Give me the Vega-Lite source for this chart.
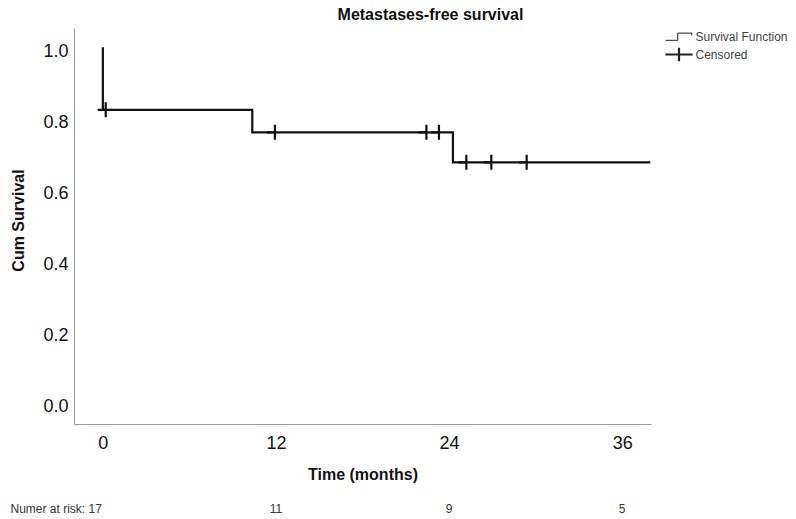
{
  "$schema": "https://vega.github.io/schema/vega-lite/v6.json",
  "width": 577,
  "height": 396,
  "autosize": "none",
  "padding": {"left": 74, "top": 28, "right": 145, "bottom": 95},
  "background": "white",
  "config": {"view": {"stroke": null}, "font": "Liberation Sans"},
  "title": {"text": "Metastases-free survival", "fontSize": 16, "fontWeight": "bold", "font": "Liberation Sans", "color": "#111", "anchor": "middle", "dx": 68, "offset": 5},
  "datasets": {
    "survival": [
      {"time": 0, "survival": 1.0},
      {"time": 0, "survival": 0.8235},
      {"time": 10.36, "survival": 0.7602},
      {"time": 24.27, "survival": 0.6757},
      {"time": 37.95, "survival": 0.6757}
    ],
    "censored": [
      {"time": 0.2, "survival": 0.8235, "series": "Censored"},
      {"time": 11.93, "survival": 0.7602, "series": "Censored"},
      {"time": 22.43, "survival": 0.7602, "series": "Censored"},
      {"time": 23.3, "survival": 0.7602, "series": "Censored"},
      {"time": 25.2, "survival": 0.6757, "series": "Censored"},
      {"time": 26.93, "survival": 0.6757, "series": "Censored"},
      {"time": 29.38, "survival": 0.6757, "series": "Censored"}
    ],
    "atrisk": [
      {"time": 0, "label": "Numer at risk: 17"},
      {"time": 12, "label": "11"},
      {"time": 24, "label": "9"},
      {"time": 36, "label": "5"}
    ]
  },
  "layer": [
    {
      "data": {"name": "survival"},
      "mark": {"type": "line", "interpolate": "step-after", "color": "#111", "strokeWidth": 2.2},
      "encoding": {
        "x": {"field": "time", "type": "quantitative",
          "scale": {"domain": [-2, 38], "nice": false, "zero": false},
          "axis": {"values": [0, 12, 24, 36], "title": "Time (months)", "titleFontSize": 16, "titleFontWeight": "bold", "titleColor": "#111", "titlePadding": 14, "labelFontSize": 18, "labelColor": "#111", "labelPadding": 10, "ticks": false, "tickSize": 0, "grid": false, "domainColor": "#999", "labelFont": "Liberation Sans", "titleFont": "Liberation Sans", "labelFlush": false}},
        "y": {"field": "survival", "type": "quantitative",
          "scale": {"domain": [-0.061, 1.054], "nice": false, "zero": false},
          "axis": {"values": [0, 0.2, 0.4, 0.6, 0.8, 1.0], "format": ".1f", "title": "Cum Survival", "titleFontSize": 16, "titleFontWeight": "bold", "titleColor": "#111", "titlePadding": 16, "titleY": 192, "labelFontSize": 18, "labelColor": "#111", "labelPadding": 6, "labelOffset": 4.5, "ticks": false, "tickSize": 0, "grid": false, "domainColor": "#999", "labelFont": "Liberation Sans", "titleFont": "Liberation Sans", "labelFlush": false}}
      }
    },
    {
      "data": {"name": "censored"},
      "mark": {"type": "point", "filled": false, "size": 225, "shape": "M-1.07,0H0M0,-1V1", "strokeWidth": 2.2, "color": "#111", "opacity": 1},
      "encoding": {
        "x": {"field": "time", "type": "quantitative"},
        "y": {"field": "survival", "type": "quantitative"}
      }
    },
    {
      "data": {"name": "censored"},
      "mark": {"type": "point", "filled": false, "size": 225, "color": "#111", "opacity": 0},
      "encoding": {
        "x": {"field": "time", "type": "quantitative"},
        "y": {"field": "survival", "type": "quantitative"},
        "shape": {"field": "series", "type": "nominal",
          "scale": {"domain": ["Survival Function", "Censored"], "range": ["M-1.6,0.45H-0.15V-0.4H1.5V-0.1", "M-1.6,0H1.6M0,-0.78V0.78"]},
          "legend": {"orient": "none", "legendX": 595, "legendY": -0.5, "title": null, "symbolSize": 289, "symbolOpacity": 1, "symbolStrokeColor": "#222", "symbolFillColor": "transparent", "labelFontSize": 12, "labelColor": "#444", "labelFont": "Liberation Sans", "labelOffset": 6.5, "rowPadding": 0, "padding": 0}},
        "strokeWidth": {"field": "series", "type": "nominal",
          "scale": {"type": "ordinal", "domain": ["Survival Function", "Censored"], "range": [1, 2.2]},
          "legend": {"orient": "none", "legendX": 595, "legendY": -0.5, "title": null, "symbolSize": 289, "symbolOpacity": 1, "symbolStrokeColor": "#222", "symbolFillColor": "transparent", "labelFontSize": 12, "labelColor": "#444", "labelFont": "Liberation Sans", "labelOffset": 6.5, "rowPadding": 0, "padding": 0}}
      }
    },
    {
      "data": {"name": "atrisk"},
      "transform": [{"filter": "datum.time == 0"}],
      "mark": {"type": "text", "align": "right", "baseline": "middle", "fontSize": 12, "color": "#333", "dx": -1, "font": "Liberation Sans"},
      "encoding": {
        "x": {"field": "time", "type": "quantitative"},
        "y": {"datum": -0.3},
        "text": {"field": "label"}
      }
    },
    {
      "data": {"name": "atrisk"},
      "transform": [{"filter": "datum.time > 0"}],
      "mark": {"type": "text", "align": "center", "baseline": "middle", "fontSize": 12, "color": "#333", "font": "Liberation Sans"},
      "encoding": {
        "x": {"field": "time", "type": "quantitative"},
        "y": {"datum": -0.3},
        "text": {"field": "label"}
      }
    }
  ]
}
